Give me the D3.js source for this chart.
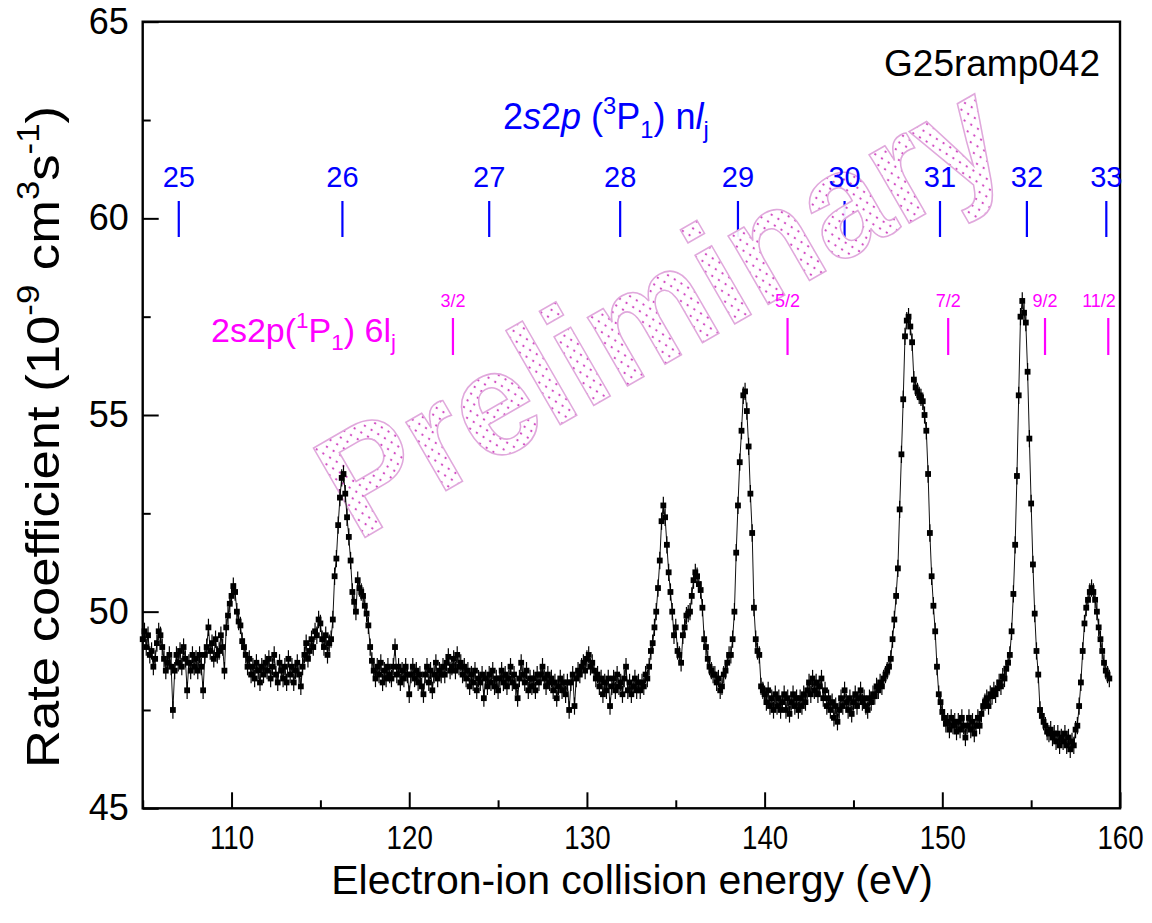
<!DOCTYPE html>
<html>
<head>
<meta charset="utf-8">
<script src="https://cdn.jsdelivr.net/npm/d3@7"></script>
<style>
  body { margin: 0; background: #fff; }
  svg text { font-family: "Liberation Sans", Arial, Helvetica, sans-serif; }
</style>
</head>
<body>
<svg id="chart" width="1152" height="923"></svg>
<script>
// Energy ramp of the scan (eV)
const energyStart = 105.0;
const energyStep = 0.1;

// Merged rate coefficient, 1e-9 cm^3 s^-1, one row per eV
const rateValues = [
  49.3, 49.5, 49.1, 49.4, 48.9, 49.0, 48.6, 48.8, 49.2, 49.5,
  49.4, 49.1, 48.8, 48.5, 48.7, 48.9, 48.6, 47.5, 48.5, 48.9,
  48.7, 49.0, 48.6, 49.1, 48.8, 48.0, 48.7, 48.5, 48.9, 48.6,
  48.8, 48.5, 48.9, 48.6, 48.0, 48.9, 49.1, 49.6, 49.0, 49.2,
  48.8, 49.3, 48.9, 49.0, 49.4, 49.1, 48.5, 49.6, 49.9, 50.2,
  50.4, 50.65, 50.5, 50.0, 49.75, 49.65, 49.25, 49.1, 48.9, 48.6,
  48.8, 48.4, 48.6, 48.3, 48.7, 48.5, 48.2, 48.6, 48.4, 48.7,
  48.5, 48.8, 48.3, 48.6, 48.9, 48.4, 48.2, 48.7, 48.5, 48.3,
  48.6, 48.2, 48.8, 48.4, 48.6, 48.2, 48.5, 48.7, 48.4, 48.1,
  48.6, 48.9, 49.2, 48.8, 49.0, 49.3, 49.1, 49.5, 49.4, 49.8,
  49.7, 49.3, 49.1, 49.4, 48.9, 49.2, 49.3, 49.8, 50.9, 51.35,
  52.2, 52.9, 53.4, 53.5, 53.0, 52.4, 51.9, 51.3, 50.5, 50.25,
  50.0, 50.8, 50.6, 50.5, 50.4, 50.15, 49.95, 49.65, 49.1, 48.75,
  48.5, 48.3, 48.6, 48.4, 48.7, 48.2, 48.5, 48.3, 48.6, 48.4,
  48.3, 48.6, 49.1, 48.4, 48.6, 48.2, 48.5, 48.3, 48.6, 48.4,
  47.9, 48.4, 48.6, 48.3, 48.5, 48.2, 48.4, 48.1, 47.9, 48.4,
  48.6, 48.2, 48.5, 48.0, 48.4, 48.7, 48.3, 48.5, 48.4, 48.6,
  48.4, 48.7, 48.85, 48.5, 48.6, 48.8, 48.5, 48.9, 48.6, 48.7,
  48.4, 48.6, 48.3, 48.5, 48.1, 48.4, 48.2, 48.5, 48.0, 48.3,
  48.2, 48.4, 47.8, 48.3, 48.1, 48.4, 48.2, 48.5, 48.1, 48.3,
  48.0, 48.3, 48.5, 48.2, 48.4, 48.1, 48.3, 48.6, 48.2, 48.4,
  48.1, 47.8, 48.3, 48.7, 48.4, 48.2, 48.5, 48.0, 48.3, 48.1,
  48.3, 48.0, 48.4, 48.2, 48.4, 48.6, 48.3, 48.1, 48.4, 48.2,
  48.3, 48.0, 48.2, 47.8, 48.1, 48.3, 48.0, 48.2, 47.9, 48.2,
  47.5, 48.2, 48.4, 47.6, 48.3, 48.5, 48.4, 48.6, 48.7, 48.5,
  48.8, 48.9, 48.6, 48.7, 48.5, 48.3, 48.4, 48.1, 48.3, 47.9,
  48.2, 48.0, 48.3, 47.6, 48.1, 48.3, 48.0, 48.4, 48.1, 48.2,
  47.9, 48.3, 48.6, 48.0, 48.2, 47.9, 48.1, 48.3, 48.0, 48.2,
  48.0, 48.2, 48.1, 48.4, 48.3, 48.6, 49.0, 49.2, 49.6, 50.0,
  50.6, 51.3, 52.3, 52.7, 52.4, 51.7, 51.0, 50.5, 50.0, 49.4,
  49.6, 49.0, 48.9, 48.7, 49.4, 49.6, 49.9, 49.95, 50.0, 50.4,
  50.8, 51.0, 50.9, 50.7, 50.55, 50.1, 49.3, 49.1, 48.8, 48.6,
  48.5, 48.4, 48.4, 48.2, 48.3, 48.0, 48.1, 48.4, 48.5, 48.7,
  48.9, 48.9, 49.3, 50.0, 51.5, 52.7, 53.8, 54.6, 55.5, 55.6,
  55.1, 54.2, 53.0, 52.0, 50.1, 49.3, 49.0, 48.9, 48.1, 48.0,
  47.9, 47.7, 48.0, 47.6, 47.8, 47.5, 47.9, 47.6, 47.8, 47.5,
  47.7, 47.9, 47.5, 47.8, 47.4, 47.7, 47.9, 47.6, 47.8, 47.5,
  47.8, 47.6, 47.9, 47.7, 48.0, 48.2, 47.9, 48.3, 48.0, 48.2,
  47.9, 48.1, 48.3, 47.8, 48.0, 47.6, 47.8, 47.5, 47.7, 47.3,
  47.6, 47.2, 47.5, 47.8, 47.6, 48.0, 47.7, 47.5, 47.8, 47.4,
  47.7, 47.9, 47.6, 47.8, 48.0, 47.7, 47.8, 47.6, 47.5, 47.8,
  47.7, 47.9, 47.85, 48.1, 48.0, 48.2, 48.1, 48.3, 48.4, 48.5,
  48.6, 48.8, 49.3, 49.8, 50.4, 51.1, 52.6, 54.0, 55.4, 57.0,
  57.4, 57.5, 57.25, 56.85, 55.9, 55.7, 55.6, 55.5, 55.45, 55.35,
  55.0, 54.6, 53.5, 52.0, 50.9, 50.15, 49.5, 48.6, 47.9, 47.7,
  47.45, 47.3, 47.15, 47.2, 47.0, 47.3, 47.1, 47.2, 46.95, 47.2,
  47.0, 47.3, 47.1, 46.8, 47.1, 47.3, 47.0, 47.2, 46.9, 47.1,
  47.3, 47.1, 47.4, 47.6, 47.7, 47.8, 47.6, 47.9, 47.85, 48.0,
  47.9, 48.05, 48.2, 48.1, 48.35, 48.3, 48.55, 48.7, 48.9, 49.5,
  50.45, 51.7, 53.45, 55.5, 57.5, 57.9, 57.6, 57.35, 56.1, 54.4,
  52.75, 51.2, 49.95, 49.0, 48.4, 47.5, 47.35, 47.2, 47.1, 46.95,
  46.9, 47.0, 46.8, 46.9, 46.7, 46.9, 46.6, 46.8, 46.7, 46.9,
  46.6, 46.8, 46.5, 46.7, 46.6, 47.0, 47.1, 47.6, 48.2, 49.0,
  49.7, 50.1, 50.3, 50.5, 50.6, 50.5, 50.3, 50.0, 49.6, 49.3,
  49.0, 48.7, 48.5, 48.4, 48.3
];
// Statistical uncertainty of each point (1e-9 cm^3 s^-1)
const rateError = 0.22;

// Axis ticks
const xMajorTicks = [110, 120, 130, 140, 150, 160];
const xMinorTicks = [105, 115, 125, 135, 145, 155];
const yMajorTicks = [45, 50, 55, 60, 65];
const yMinorTicks = [47.5, 52.5, 57.5, 62.5];

// 2s2p(3P1) nl_j series limits (eV)
const tripletN = ["25", "26", "27", "28", "29", "30", "31", "32", "33"];
const tripletEnergy = [107.03, 116.24, 124.50, 131.87, 138.50, 144.50, 149.87, 154.76, 159.23];

// 2s2p(1P1) 6l_j resonances (eV)
const singletJ = ["3/2", "5/2", "7/2", "9/2", "11/2"];
const singletEnergy = [122.46, 141.29, 150.33, 155.78, 159.34];

const runLabel = "G25ramp042";

const data = rateValues.map((v, i) => ({ e: energyStart + i * energyStep, v }));

const svg = d3.select("#chart");
const plotLeft = 142.7, plotRight = 1120, plotTop = 21.7, plotBottom = 808.3;
const x = d3.scaleLinear().domain([105, 160]).range([plotLeft, plotRight]);
const y = d3.scaleLinear().domain([45, 65]).range([plotBottom, plotTop]);

// Axes with inward ticks
const xAxis = svg.append("g").attr("transform", `translate(0,${plotBottom})`)
  .call(d3.axisBottom(x).tickValues(xMajorTicks).tickSize(-16).tickPadding(17).tickFormat(d3.format("d")));
svg.append("g").attr("transform", `translate(0,${plotBottom})`)
  .call(d3.axisBottom(x).tickValues(xMinorTicks).tickSize(-8).tickFormat(""));
const yAxis = svg.append("g").attr("transform", `translate(${plotLeft},0)`)
  .call(d3.axisLeft(y).tickValues(yMajorTicks).tickSize(-16).tickPadding(14).tickFormat(d3.format("d")));
svg.append("g").attr("transform", `translate(${plotLeft},0)`)
  .call(d3.axisLeft(y).tickValues(yMinorTicks).tickSize(-8).tickFormat(""));
svg.selectAll(".domain").remove();
svg.selectAll(".tick line").attr("stroke", "#000").attr("stroke-width", 2);
xAxis.selectAll("text").attr("font-size", 33).attr("fill", "#000").attr("transform", "scale(0.84,1)");
yAxis.selectAll("text").attr("font-size", 36).attr("fill", "#000");

svg.append("rect").attr("x", plotLeft).attr("y", plotTop)
  .attr("width", plotRight - plotLeft).attr("height", plotBottom - plotTop)
  .attr("fill", "none").attr("stroke", "#000").attr("stroke-width", 2.4);

// Rich text helper: plain / italic / superscript / subscript runs
function richText(sel, parts, size) {
  let shift = 0;
  parts.forEach(p => {
    const ts = sel.append("tspan").text(p[0]);
    let target = 0, fs = size;
    if (p[1] === "sup") { target = -0.42 * size; fs = 0.66 * size; }
    if (p[1] === "sub") { target = 0.24 * size; fs = 0.66 * size; }
    ts.attr("font-size", fs).attr("dy", target - shift);
    if (p[1] === "i") ts.attr("font-style", "italic");
    shift = target;
  });
}

// Axis titles
svg.append("text").attr("x", 632).attr("y", 894).attr("text-anchor", "middle")
  .attr("font-size", 41).text("Electron-ion collision energy (eV)");
const yTitle = svg.append("text").attr("text-anchor", "middle")
  .attr("transform", "translate(59,437) rotate(-90) scale(1.12,1)").attr("font-size", 47);
richText(yTitle, [["Rate coefficient (10"], ["-9", "sup"], [" cm"], ["3", "sup"], ["s"], ["-1", "sup"], [")"]], 47);

// Run label
svg.append("text").attr("x", 1100).attr("y", 76).attr("text-anchor", "end")
  .attr("font-size", 37).attr("fill", "#000").text(runLabel);

const blue = "#0000ff";
const mag = "#ff00ff";

// Resonance position ticks
svg.append("g").selectAll("line").data(tripletEnergy).join("line")
  .attr("x1", d => x(d)).attr("x2", d => x(d)).attr("y1", 201).attr("y2", 237)
  .attr("stroke", blue).attr("stroke-width", 2.2);
svg.append("g").selectAll("line").data(singletEnergy).join("line")
  .attr("x1", d => x(d)).attr("x2", d => x(d)).attr("y1", 318).attr("y2", 355)
  .attr("stroke", mag).attr("stroke-width", 2.2);

// Watermark
const defs = svg.append("defs");
const pat = defs.append("pattern").attr("id", "dots").attr("patternUnits", "userSpaceOnUse")
  .attr("width", 8).attr("height", 8).attr("patternTransform", "rotate(-30)");
pat.append("rect").attr("width", 8).attr("height", 8).attr("fill", "#fff");
pat.append("circle").attr("cx", 3).attr("cy", 3).attr("r", 1.15).attr("fill", "#cc33bb");
svg.append("text").attr("text-anchor", "middle")
  .attr("transform", "translate(686,352) rotate(-30) scale(0.93,1)")
  .attr("font-size", 150).attr("font-weight", "bold")
  .attr("fill", "url(#dots)").attr("fill-opacity", 0.93)
  .attr("stroke", "#e0a8dc").attr("stroke-width", 1.6).text("Preliminary");

// Triplet series labels
const tTitle = svg.append("text").attr("x", 503).attr("y", 129).attr("fill", blue);
richText(tTitle, [["2"], ["s", "i"], ["2"], ["p", "i"], [" ("], ["3", "sup"], ["P"], ["1", "sub"], [") n"], ["l", "i"], ["j", "sub"]], 36);
svg.append("g").selectAll("text").data(tripletN).join("text")
  .attr("x", (d, i) => x(tripletEnergy[i])).attr("y", 187)
  .attr("text-anchor", "middle").attr("font-size", 29).attr("fill", blue).text(d => d);

// Singlet 6l_j labels
const sTitle = svg.append("text").attr("x", 211).attr("y", 342).attr("fill", mag);
richText(sTitle, [["2s2p("], ["1", "sup"], ["P"], ["1", "sub"], [") 6l"], ["j", "sub"]], 34);
svg.append("g").selectAll("text").data(singletJ).join("text")
  .attr("x", (d, i) => Math.min(x(singletEnergy[i]), 1099)).attr("y", 307)
  .attr("text-anchor", "middle").attr("font-size", 18).attr("fill", mag).text(d => d);

// Data: connecting line, error bars, square markers
const plot = svg.append("g");
plot.append("path").datum(data)
  .attr("d", d3.line().x(d => x(d.e)).y(d => y(d.v)))
  .attr("fill", "none").attr("stroke", "#111").attr("stroke-width", 1);
plot.append("g").selectAll("line").data(data).join("line")
  .attr("x1", d => x(d.e)).attr("x2", d => x(d.e))
  .attr("y1", d => y(d.v - rateError)).attr("y2", d => y(d.v + rateError))
  .attr("stroke", "#000").attr("stroke-width", 1.2);
plot.append("g").selectAll("rect").data(data).join("rect")
  .attr("x", d => x(d.e) - 2.9).attr("y", d => y(d.v) - 2.9)
  .attr("width", 5.8).attr("height", 5.8).attr("fill", "#000");
</script>
</body>
</html>
